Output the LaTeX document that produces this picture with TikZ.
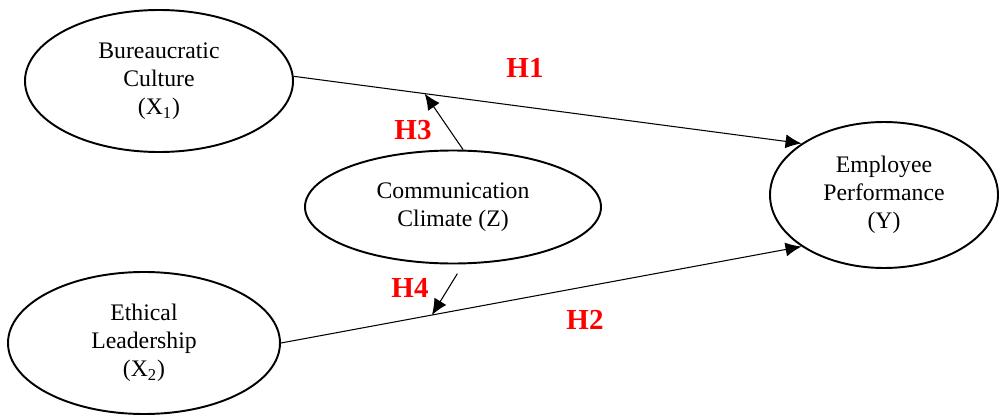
\documentclass[tikz,border=0pt]{standalone}
\usepackage{fontspec}
\setmainfont{Liberation Serif}
\usepackage{xcolor}
\usepackage{tikz}
\usetikzlibrary{arrows.meta,calc,shapes.geometric}
\definecolor{hypred}{HTML}{FF0000}

\begin{document}
\begin{tikzpicture}[scale=1,
    construct/.style={ellipse,draw,line width=1.1pt,inner sep=0pt,align=center,
      font=\fontsize{13.5}{16}\selectfont},
    path/.style={-{Latex[length=3.2mm,width=2.8mm]},line width=0.6pt},
    hyp/.style={text=hypred,font=\fontsize{16.5}{18}\selectfont\bfseries}]
    \useasboundingbox (0,0) rectangle (20,8.36);
    \node[construct,minimum width=5.36cm,minimum height=2.84cm] (x1) at (3.18,6.74) {Bureaucratic\\Culture\\(X\textsubscript{1})};
    \node[construct,minimum width=5.92cm,minimum height=2.26cm] (z) at (9.06,4.22) {Communication\\Climate (Z)};
    \node[construct,minimum width=4.56cm,minimum height=2.92cm] (y) at (17.68,4.46) {Employee\\Performance\\(Y)};
    \node[construct,minimum width=5.44cm,minimum height=2.84cm] (x2) at (2.88,1.50) {Ethical\\Leadership\\(X\textsubscript{2})};
    % direct paths
    \draw[path] (x1.2) -- (y.148.5);
    \draw[path] (x2.east) -- (y.212);
    % moderating paths
    \coordinate (m1) at ($(x1.2)!0.258!(y.148.5)$);
    \coordinate (m2) at ($(x2.east)!0.29!(y.212)$);
    \draw[path] (z.80) -- (m1);
    \draw[path,shorten <=0.22cm] (z.-80) -- (m2);
    % hypothesis labels
    \node[hyp] (h1) at (10.5,7.0) {H1};
    \node[hyp] (h2) at (11.7,1.96) {H2};
    \node[hyp] (h3) at (8.26,5.76) {H3};
    \node[hyp] (h4) at (8.2,2.6) {H4};
  \end{tikzpicture}
\end{document}
